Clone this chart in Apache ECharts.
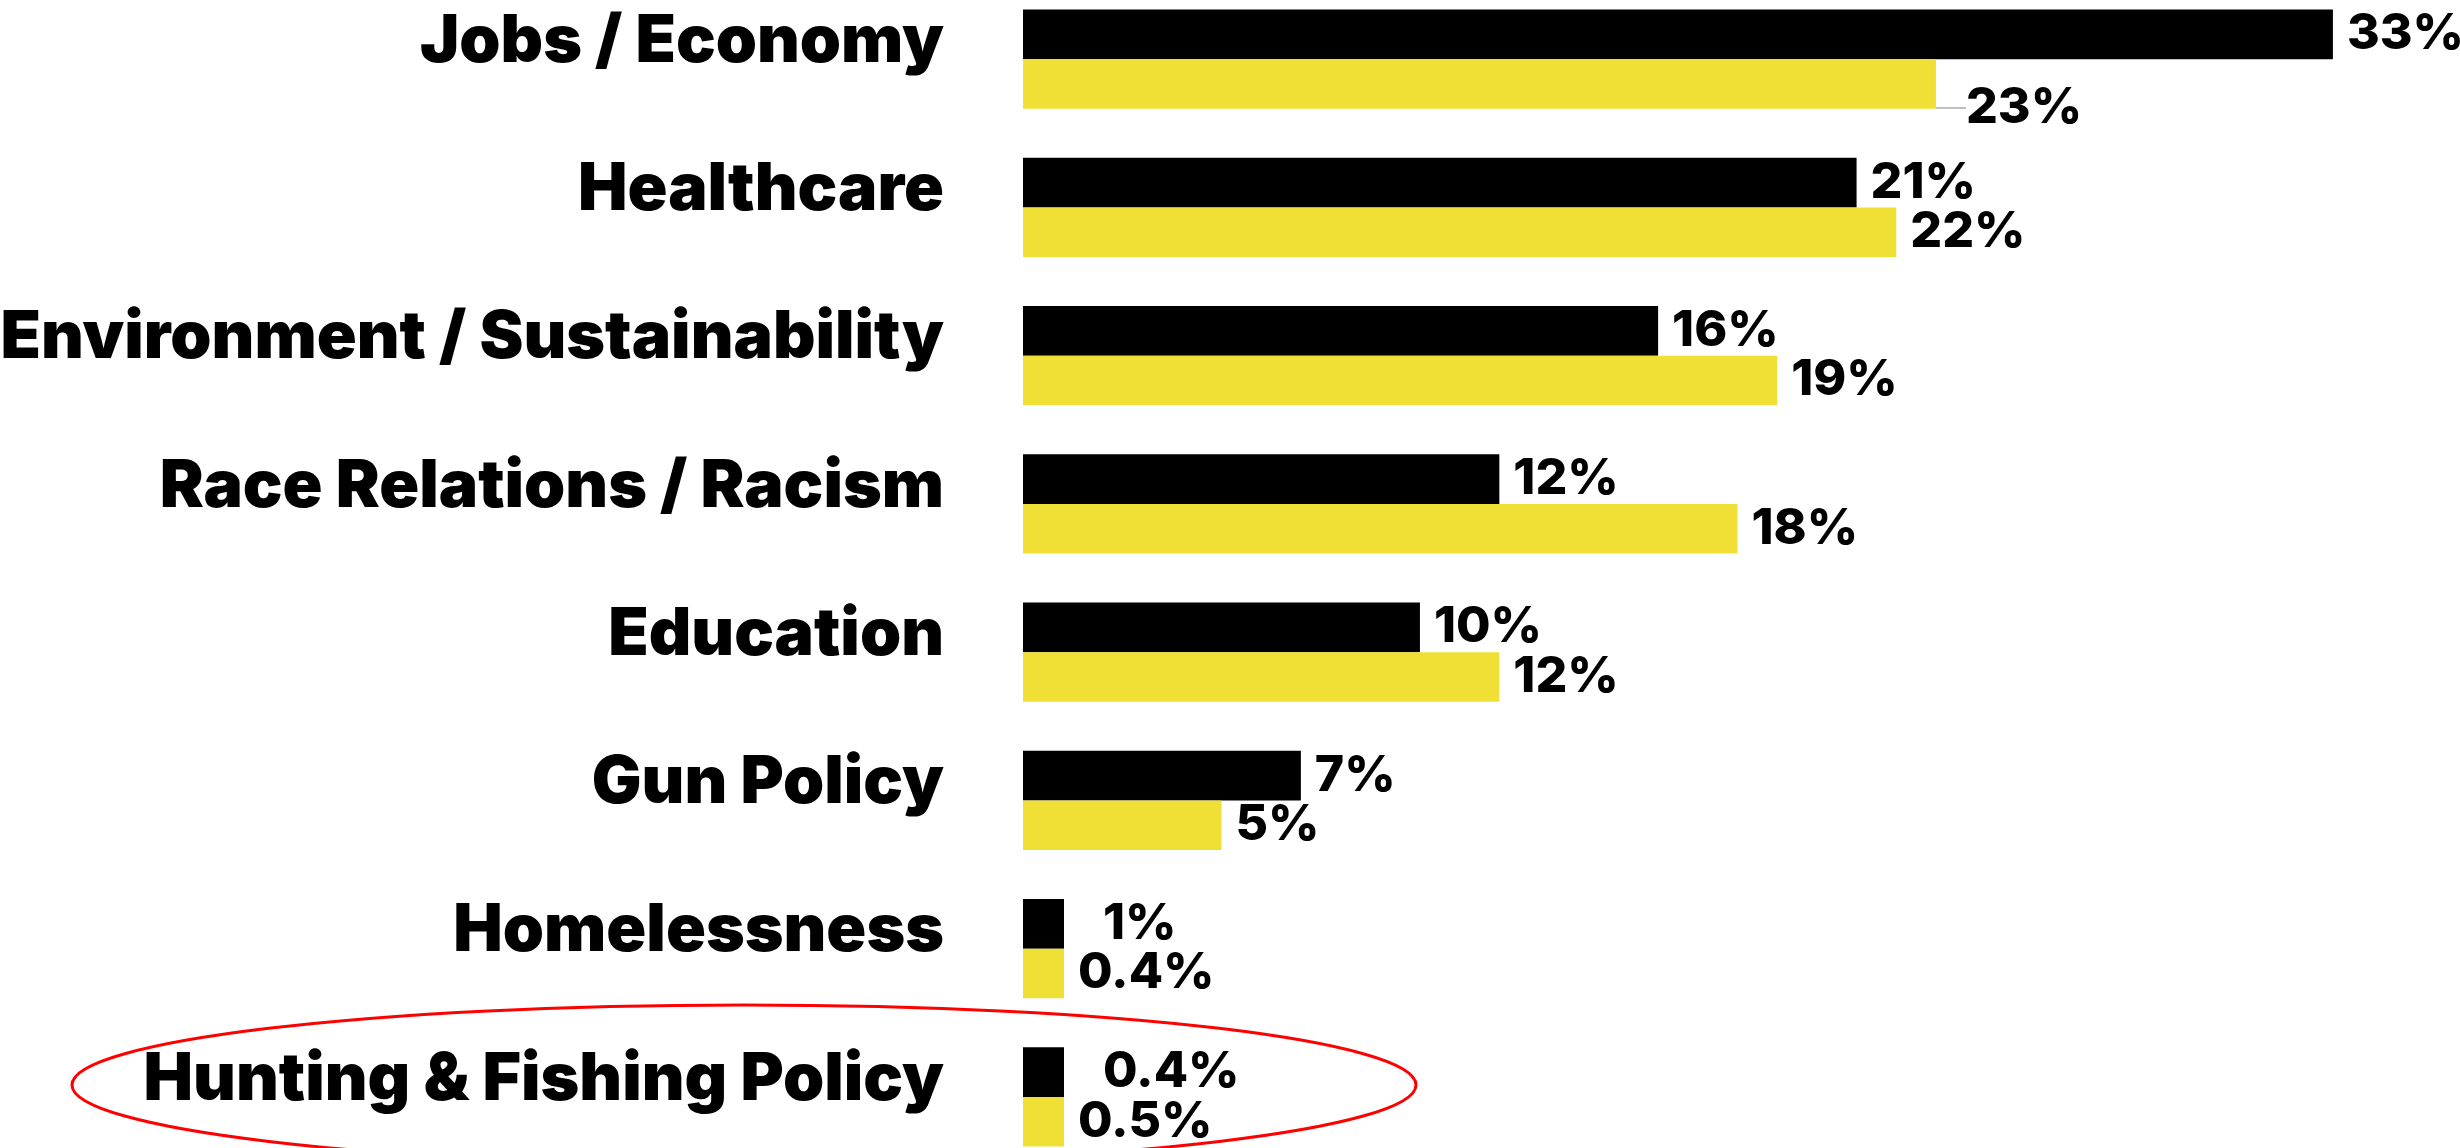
<!DOCTYPE html>
<html>
<head>
<meta charset="utf-8">
<title>Top issues</title>
<script src="https://cdn.jsdelivr.net/npm/echarts@6/dist/echarts.min.js"></script>
<style>
  html, body { margin: 0; padding: 0; background: #ffffff; overflow: hidden; }
  #chart { width: 2460px; height: 1148px; }
</style>
</head>
<body>
<div id="chart"></div>
<script>
// Issue categories, top to bottom
const categories = [
  'Jobs / Economy',
  'Healthcare',
  'Environment / Sustainability',
  'Race Relations / Racism',
  'Education',
  'Gun Policy',
  'Homelessness',
  'Hunting & Fishing Policy'
];
// Share of respondents (%), first group (black bars)
const blackValues = [33, 21, 16, 12, 10, 7, 1, 0.4];
// Share of respondents (%), second group (yellow bars)
const yellowValues = [23, 22, 19, 18, 12, 5, 0.4, 0.5];
// Category circled for emphasis
const highlighted = 'Hunting & Fishing Policy';

const FONT = 'Inter, "Noto Sans", sans-serif';

const chart = echarts.init(document.getElementById('chart'), null, { renderer: 'canvas' });

function valueLabel() {
  return {
    show: true,
    position: 'right',
    distance: 14,
    formatter: p => p.value + '%',
    color: '#000000',
    fontFamily: FONT,
    fontWeight: 800,
    fontSize: 50
  };
}

const option = {
  animation: false,
  backgroundColor: '#ffffff',
  grid: {
    left: 1023, top: -15, width: 1429, height: 1186,
    containLabel: false,
    outerBoundsMode: 'none'
  },
  xAxis: { type: 'value', min: 0, max: 36, show: false },
  yAxis: {
    type: 'category',
    data: categories,
    inverse: true,
    axisLine: { show: false },
    axisTick: { show: false },
    splitLine: { show: false },
    axisLabel: {
      margin: 79,
      color: '#000000',
      fontFamily: FONT,
      fontWeight: 900,
      fontSize: 66,
      // sit the category names slightly above the middle of each bar pair
      verticalAlign: 'bottom',
      lineHeight: 34
    }
  },
  series: [
    {
      type: 'bar',
      data: blackValues,
      barGap: '0%',
      barCategoryGap: '33%',
      barMinHeight: 41,
      itemStyle: { color: '#000000' },
      label: valueLabel(),
      // nudge the labels of the tiny bars away from the yellow labels below
      labelLayout: p => (p.dataIndex >= 6 ? { dx: 25 } : {})
    },
    {
      type: 'bar',
      data: yellowValues.map((v, i) => (i === 0 ? { value: v, labelLine: { show: true } } : v)),
      barMinHeight: 41,
      itemStyle: { color: '#f0e036' },
      label: valueLabel(),
      labelLine: { show: false, lineStyle: { color: '#aaaaaa', width: 1.5 } },
      // the first yellow label drops below the long black bar's label, with a leader line
      labelLayout: p => {
        if (p.dataIndex !== 0) return {};
        const bx = p.rect.x + p.rect.width;
        const by = p.rect.y + p.rect.height / 2;
        return {
          dx: 16,
          dy: 24,
          labelLinePoints: [[bx, by], [bx + 10, by + 31], [bx + 23, by + 31]]
        };
      }
    }
  ]
};

chart.setOption(option);

// red ellipse around the highlighted category
const cy = chart.convertToPixel({ yAxisIndex: 0 }, highlighted);
chart.setOption({
  graphic: [{
    type: 'ellipse',
    z: 100,
    shape: { cx: 744, cy: cy - 12, rx: 672, ry: 80 },
    style: { fill: 'none', stroke: '#ff0000', lineWidth: 3 }
  }]
});
</script>
</body>
</html>
